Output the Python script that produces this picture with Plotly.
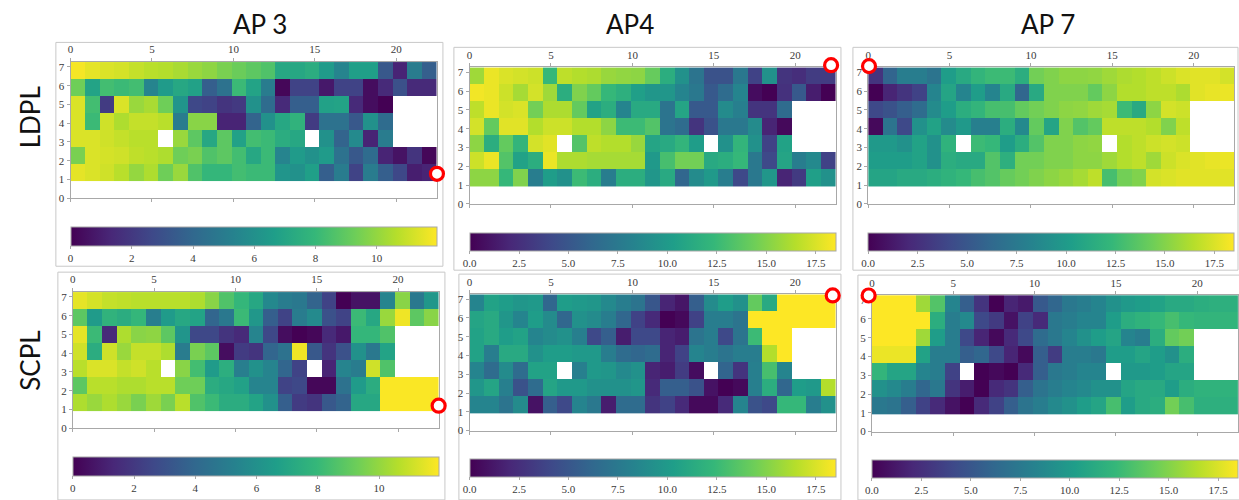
import plotly.graph_objects as go

W, H = 1239, 500

# Measurement grid (25 columns x 7 rows, ~0.9 m cells)
n_cols, n_rows = 25, 7
cell_w, cell_h, row0 = 0.9, 0.907, 0.91
x_cells = [cell_w * (i + 0.5) for i in range(n_cols)]
y_cells = [row0 + cell_h * (j + 0.5) for j in range(n_rows)]

ap_titles = ["AP 3", "AP4", "AP 7"]
model_labels = ["LDPL", "SCPL"]

zmax_ap3 = 11.95
zmax_ap47 = 18.5
cb_ticks_ap3 = [0, 2, 4, 6, 8, 10]
cb_ticks_ap47 = [0.0, 2.5, 5.0, 7.5, 10.0, 12.5, 15.0, 17.5]

N = None
# rows listed bottom (y=1) to top (y=7)
ap3_ldpl = [
    [11.5, 11.3, 11.1, 10.7, 10.0, 10.5, 9.3, 10.1, 8.6, 7.9, 7.9, 8.3, 8.1, 8.1, 6.2, 6.0, 6.7, 3.6, 5.0, 2.4, 5.0, 3.6, 2.6, 1.0, 1.2],
    [9.5, 11.3, 11.2, 11.1, 10.8, 10.7, 10.5, 9.3, 9.5, 8.6, 8.9, 8.3, 7.1, 8.1, 5.4, 6.5, 6.0, 6.5, 4.5, 3.3, 4.2, 1.2, 0.6, 1.8, 0.2],
    [11.3, 11.3, 11.1, 10.9, 10.7, 10.7, N, 10.1, 8.9, 7.1, 8.9, 6.8, 8.3, 8.1, 7.4, 7.1, N, 6.0, 3.8, 5.7, 1.2, 5.0, N, N, N],
    [11.3, 8.1, 11.1, 10.5, 10.9, 10.9, 10.7, 5.0, 9.8, 9.8, 1.2, 1.2, 3.8, 6.0, 7.1, 7.7, 2.1, 4.5, 4.5, 3.3, 6.0, 4.2, N, N, N],
    [11.3, 8.3, 2.1, 11.3, 10.1, 10.4, 9.3, 6.2, 2.6, 2.4, 1.8, 2.0, 6.0, 4.2, 1.4, 3.6, 3.6, 6.8, 6.9, 1.4, 0.4, 0.0, N, N, N],
    [9.3, 6.9, 8.3, 8.1, 8.3, 5.4, 6.5, 7.1, 6.8, 3.6, 4.5, 8.1, 6.9, 5.0, 0.2, 2.4, 2.4, 0.8, 2.4, 2.4, 0.4, 1.4, 3.0, 1.4, 1.4],
    [11.8, 11.5, 11.3, 11.2, 10.9, 10.7, 10.6, 10.4, 10.1, 9.9, 9.5, 9.2, 8.9, 8.6, 7.1, 7.1, 7.4, 6.5, 5.4, 6.7, 6.7, 3.3, 1.2, 5.0, 3.6],
]
ap4_ldpl = [
    [15.3, 15.3, 12.3, 14.9, 7.8, 10.2, 9.3, 12.6, 11.5, 7.8, 11.5, 11.5, 9.7, 11.2, 6.1, 8.9, 9.9, 7.8, 4.1, 7.4, 9.7, 1.9, 3.2, 10.4, 9.3],
    [17.1, 18.0, 13.4, 10.6, 11.5, 18.0, 16.2, 16.2, 16.0, 16.0, 16.0, 16.0, 9.9, 13.0, 14.5, 14.5, 11.2, 11.5, 12.3, 7.4, 4.1, 10.8, 7.8, 8.7, 3.7],
    [15.3, 11.5, 14.0, 12.1, 17.3, 17.7, N, 13.4, 16.7, 16.4, 16.4, 15.6, 10.8, 11.2, 12.1, 10.2, N, 9.3, 12.1, 9.3, 3.7, 10.6, N, N, N],
    [17.3, 14.0, 17.7, 17.7, 16.4, 17.1, 17.1, 16.4, 16.4, 15.3, 12.6, 12.6, 13.4, 7.1, 6.5, 2.8, 4.7, 7.4, 7.4, 8.9, 1.9, 0.4, N, N, N],
    [16.7, 18.0, 17.3, 17.5, 14.5, 16.2, 16.2, 14.0, 10.6, 11.5, 8.4, 11.2, 11.2, 7.1, 10.8, 5.2, 5.2, 8.9, 8.0, 2.8, 2.8, 6.5, N, N, N],
    [18.2, 18.0, 17.1, 16.0, 17.3, 15.8, 11.5, 14.9, 14.0, 12.3, 11.7, 10.4, 9.7, 9.7, 8.4, 7.4, 5.2, 6.5, 8.4, 0.6, 0.0, 2.6, 5.2, 1.5, 0.0],
    [15.8, 18.0, 17.5, 17.3, 17.1, 12.3, 16.7, 16.4, 16.2, 15.6, 15.4, 15.3, 14.1, 11.5, 9.3, 7.1, 4.7, 4.7, 7.4, 3.7, 9.3, 2.8, 2.4, 3.3, 3.3],
]
ap7_ldpl = [
    [10.8, 10.8, 11.2, 11.2, 11.5, 11.9, 12.3, 13.0, 13.4, 14.1, 14.5, 14.9, 15.3, 15.6, 16.0, 16.7, 13.0, 14.5, 14.9, 17.3, 17.5, 17.7, 17.7, 17.7, 17.7],
    [10.2, 10.2, 10.2, 10.6, 9.3, 11.5, 11.2, 11.2, 13.4, 11.7, 14.5, 14.5, 14.9, 14.9, 15.3, 15.3, 15.8, 16.4, 16.7, 15.8, 17.1, 17.5, 17.7, 17.9, 18.0],
    [9.9, 9.9, 9.3, 10.6, 9.3, 11.9, N, 12.6, 12.3, 10.2, 11.5, 13.4, 14.9, 14.9, 15.3, 15.4, N, 16.4, 16.7, 17.1, 17.3, 17.1, N, N, N],
    [0.4, 7.1, 4.1, 9.3, 10.6, 8.9, 9.9, 8.0, 8.0, 11.5, 8.7, 14.0, 10.8, 14.9, 13.4, 14.0, 16.7, 16.7, 16.7, 16.4, 14.9, 16.7, N, N, N],
    [4.1, 4.7, 5.6, 6.5, 8.9, 10.2, 11.5, 12.1, 13.0, 13.0, 14.0, 14.5, 14.9, 15.3, 15.4, 15.8, 16.0, 12.6, 11.2, 15.3, 17.3, 17.1, N, N, N],
    [0.0, 1.9, 2.8, 3.7, 8.4, 10.8, 8.4, 10.2, 8.4, 11.2, 6.1, 11.2, 14.9, 14.9, 14.9, 14.0, 15.3, 16.4, 16.4, 16.7, 16.7, 16.2, 17.7, 17.9, 18.0],
    [2.8, 6.0, 7.8, 7.8, 7.1, 10.2, 11.2, 12.1, 12.6, 12.6, 11.5, 14.5, 14.9, 15.3, 15.3, 15.4, 15.8, 16.2, 16.4, 16.7, 17.1, 17.5, 17.7, 17.7, 17.3],
]
ap3_scpl = [
    [10.5, 10.1, 10.5, 10.1, 9.5, 10.2, 9.5, 10.7, 8.6, 8.1, 7.4, 7.4, 6.9, 6.0, 3.6, 2.1, 1.8, 3.3, 3.8, 7.1, 7.1, 11.9, 11.9, 11.9, 11.9],
    [8.9, 10.7, 10.7, 10.5, 10.5, 10.7, 10.7, 9.3, 9.3, 7.4, 7.1, 6.8, 5.4, 5.4, 2.4, 2.6, 0.2, 0.2, 4.5, 6.5, 7.4, 11.9, 11.9, 11.9, 11.9],
    [10.7, 11.3, 11.3, 10.9, 11.1, 10.7, N, 9.8, 8.3, 6.5, 7.5, 5.1, 6.0, 5.4, 3.9, 2.4, N, 1.2, 5.4, 5.0, 11.1, 8.6, N, N, N],
    [11.1, 7.4, 11.1, 10.1, 10.9, 10.9, 10.5, 5.0, 9.5, 8.9, 0.4, 2.1, 1.8, 3.9, 4.5, 11.7, 3.3, 1.8, 3.0, 6.0, 4.8, 6.9, N, N, N],
    [11.5, 8.1, 1.4, 10.5, 9.8, 9.9, 8.9, 6.2, 2.6, 2.6, 1.8, 1.4, 5.4, 2.6, 0.4, 0.0, 0.2, 1.4, 0.8, 7.9, 7.9, 8.6, N, N, N],
    [8.9, 6.5, 7.7, 7.4, 7.9, 5.1, 6.5, 7.1, 6.9, 3.9, 4.8, 8.1, 6.3, 3.6, 2.4, 5.0, 5.7, 3.0, 2.4, 8.1, 7.1, 10.1, 11.7, 8.9, 9.8],
    [11.5, 11.2, 10.9, 10.8, 10.7, 10.7, 10.7, 10.7, 10.5, 9.8, 8.6, 7.9, 7.1, 5.6, 5.0, 4.8, 3.8, 2.4, 0.0, 0.6, 0.6, 5.4, 9.8, 4.8, 6.3],
]
ap4_scpl = [
    [8.4, 8.4, 7.1, 8.9, 0.9, 5.6, 4.1, 8.4, 7.4, 1.5, 6.5, 6.5, 2.8, 3.7, 2.2, 0.4, 0.4, 2.2, 8.4, 4.7, 4.1, 12.3, 12.3, 7.8, 9.3],
    [9.7, 10.8, 8.0, 4.7, 6.5, 10.8, 9.9, 9.9, 9.3, 9.3, 9.3, 9.7, 2.2, 5.6, 5.6, 4.7, 0.9, 0.0, 0.4, 8.0, 11.5, 6.1, 10.2, 9.9, 16.4],
    [8.4, 6.5, 8.9, 6.5, 10.6, 10.6, N, 8.0, 9.9, 9.7, 8.7, 9.3, 1.9, 1.5, 3.3, 0.6, N, 6.0, 2.8, 8.0, 13.0, 8.4, N, N, N],
    [10.6, 7.8, 11.2, 11.2, 9.3, 10.2, 10.2, 9.9, 9.9, 7.8, 6.5, 6.1, 6.5, 1.9, 3.7, 8.4, 7.8, 7.1, 7.8, 7.8, 16.4, 18.6, N, N, N],
    [10.6, 11.2, 10.2, 10.6, 8.4, 8.9, 9.3, 8.0, 4.1, 5.6, 1.5, 4.1, 4.1, 1.9, 1.5, 7.1, 7.8, 4.1, 7.1, 12.6, 18.6, 18.6, N, N, N],
    [10.8, 11.2, 9.7, 8.4, 10.2, 8.9, 6.1, 9.3, 8.9, 7.8, 6.1, 3.7, 2.2, 0.0, 0.4, 3.7, 7.8, 7.8, 7.1, 18.6, 18.6, 18.6, 18.6, 18.6, 18.6],
    [8.4, 10.6, 10.2, 9.7, 9.9, 6.1, 10.2, 9.9, 9.7, 8.7, 7.8, 7.1, 5.0, 1.9, 1.1, 5.6, 8.9, 10.2, 9.3, 14.0, 11.2, 18.6, 18.6, 18.6, 18.6],
]
ap7_scpl = [
    [7.4, 7.1, 5.6, 3.7, 2.2, 0.9, 0.0, 2.2, 3.7, 5.6, 7.1, 7.8, 8.7, 9.3, 10.2, 10.8, 13.0, 10.2, 11.2, 11.5, 14.5, 13.0, 11.7, 11.7, 11.7],
    [9.3, 8.7, 7.8, 6.1, 7.4, 2.8, 1.5, 0.0, 2.2, 2.8, 5.6, 7.1, 7.8, 8.4, 8.7, 9.3, 9.3, 10.8, 11.2, 11.2, 10.2, 11.5, 11.9, 11.9, 11.9],
    [12.1, 10.8, 10.8, 8.4, 7.8, 3.7, N, 0.0, 0.4, 0.0, 2.2, 5.6, 7.4, 7.8, 8.4, 8.4, N, 9.9, 9.9, 10.2, 10.8, 10.8, N, N, N],
    [18.0, 18.0, 18.0, 10.6, 7.8, 7.8, 5.6, 6.1, 4.1, 1.9, 0.4, 5.6, 3.3, 7.8, 7.8, 7.4, 10.2, 10.2, 10.8, 10.2, 9.3, 11.5, N, N, N],
    [18.6, 18.6, 18.6, 15.8, 10.2, 7.8, 4.1, 1.9, 0.4, 2.2, 4.1, 6.5, 7.4, 8.4, 9.3, 10.2, 10.8, 8.4, 7.8, 11.5, 14.0, 14.5, N, N, N],
    [18.6, 18.6, 18.6, 18.6, 11.5, 7.8, 8.7, 4.1, 3.2, 0.9, 3.7, 2.2, 7.4, 7.8, 8.4, 8.4, 10.2, 11.5, 11.9, 12.3, 13.0, 12.3, 12.1, 12.1, 12.1],
    [18.6, 18.6, 18.6, 15.8, 13.4, 8.4, 5.6, 2.8, 0.0, 1.9, 1.3, 5.2, 6.1, 7.4, 7.8, 8.4, 9.3, 9.9, 10.2, 10.6, 11.2, 11.2, 11.5, 11.7, 11.7],
]

# access-point location drawn on each panel (x, y in metres)
ap_x = [22.5, 22.2, 0.05, 22.5, 22.3, -0.2]
ap_y = [1.3, 7.38, 7.33, 1.2, 7.2, 7.25]

panels = [
    dict(z=ap3_ldpl, zmax=zmax_ap3, ticks=cb_ticks_ap3),
    dict(z=ap4_ldpl, zmax=zmax_ap47, ticks=cb_ticks_ap47),
    dict(z=ap7_ldpl, zmax=zmax_ap47, ticks=cb_ticks_ap47),
    dict(z=ap3_scpl, zmax=zmax_ap3, ticks=cb_ticks_ap3),
    dict(z=ap4_scpl, zmax=zmax_ap47, ticks=cb_ticks_ap47),
    dict(z=ap7_scpl, zmax=zmax_ap47, ticks=cb_ticks_ap47),
]

# pixel layout: heatmap area (left, right, top, bottom), colorbar (left, right, top, bottom), frame box
geom = [
    dict(ax=(67.7, 435.0, 61.7, 200.0), cb=(67.7, 435.0, 229.0, 248.0), box=(53, 441, 42, 269)),
    dict(ax=(467.7, 835.0, 67.2, 205.7), cb=(467.7, 835.0, 235.0, 253.3), box=(452, 840, 47, 273)),
    dict(ax=(867.3, 1234.3, 67.2, 205.7), cb=(867.3, 1234.3, 235.0, 253.3), box=(852, 1238, 47, 273)),
    dict(ax=(70.0, 436.7, 295.0, 433.3), cb=(70.0, 436.7, 462.7, 481.7), box=(55, 443, 275, 506)),
    dict(ax=(467.7, 835.0, 297.3, 435.7), cb=(467.7, 835.0, 465.0, 483.3), box=(457, 840, 277, 506)),
    dict(ax=(871.0, 1238.0, 298.3, 436.7), cb=(871.0, 1238.0, 466.0, 484.0), box=(857, 1239.5, 278, 506)),
]

TICK_FONT = dict(family="Liberation Serif", size=11, color="#3a3a3a")
SPINE = "#a8a8a8"
X_MAX, Y_MAX = 22.5, 7.27
PAD = 18  # px of room around each map for the AP marker overlay

fig = go.Figure()
layout = dict(
    width=W, height=H, margin=dict(l=0, r=0, t=0, b=0),
    paper_bgcolor="white", plot_bgcolor="rgba(0,0,0,0)", showlegend=False,
)
shapes, annotations = [], []

for k, (p, g) in enumerate(zip(panels, geom), start=1):
    xl, xr, yt, yb = g["ax"]
    sx = "" if k == 1 else str(k)
    fig.add_trace(go.Heatmap(
        x=x_cells, y=y_cells, z=p["z"],
        colorscale="Viridis", zmin=0, zmax=p["zmax"],
        xaxis="x" + sx, yaxis="y" + sx, hoverongaps=False,
        colorbar=dict(
            orientation="h",
            x=g["cb"][0] / W, xanchor="left",
            len=(g["cb"][1] - g["cb"][0]) / W, lenmode="fraction",
            y=1 - g["cb"][2] / H, yanchor="top",
            thickness=g["cb"][3] - g["cb"][2], thicknessmode="pixels",
            xpad=0, ypad=0,
            outlinecolor=SPINE, outlinewidth=1,
            tickmode="array", tickvals=p["ticks"],
            ticktext=[(f"{t:.1f}" if p["zmax"] > 15 else f"{t:g}") for t in p["ticks"]],
            ticks="outside", ticklen=3, tickcolor=SPINE,
            tickfont=TICK_FONT,
        ),
    ))
    layout["xaxis" + sx] = dict(
        domain=[xl / W, xr / W], anchor="y" + sx, range=[0, X_MAX],
        side="top", tickmode="array", tickvals=[0, 5, 10, 15, 20],
        ticks="outside", ticklen=3, tickcolor=SPINE,
        showline=True, linecolor=SPINE, linewidth=1, mirror="ticks",
        showgrid=False, zeroline=False, tickfont=TICK_FONT,
    )
    layout["yaxis" + sx] = dict(
        domain=[1 - yb / H, 1 - yt / H], anchor="x" + sx, range=[0, Y_MAX],
        tickmode="array", tickvals=list(range(8)),
        ticks="outside", ticklen=3, tickcolor=SPINE,
        showline=True, linecolor=SPINE, linewidth=1, mirror=True,
        showgrid=False, zeroline=False, tickfont=TICK_FONT,
    )

    # hidden axes with the same metres-per-pixel scale but a little extra room,
    # so the AP marker can sit on or just outside the map edge
    kx = (xr - xl) / X_MAX
    ky = (yb - yt) / Y_MAX
    pl, pr = min(PAD, xl), min(PAD, W - xr)
    pt, pb = min(PAD, yt), min(PAD, H - yb)
    mk = str(k + 6)
    layout["xaxis" + mk] = dict(
        domain=[(xl - pl) / W, (xr + pr) / W], anchor="y" + mk,
        range=[-pl / kx, X_MAX + pr / kx], visible=False,
    )
    layout["yaxis" + mk] = dict(
        domain=[1 - (yb + pb) / H, 1 - (yt - pt) / H], anchor="x" + mk,
        range=[-pb / ky, Y_MAX + pt / ky], visible=False,
    )
    fig.add_trace(go.Scatter(
        x=[ap_x[k - 1]], y=[ap_y[k - 1]], mode="markers",
        marker=dict(symbol="circle", size=13, color="white",
                    line=dict(color="#ff0000", width=3.2)),
        xaxis="x" + mk, yaxis="y" + mk, hoverinfo="skip",
    ))

    bx0, bx1, by0, by1 = g["box"]
    shapes.append(dict(
        type="rect", xref="paper", yref="paper",
        x0=bx0 / W, x1=bx1 / W, y0=1 - by1 / H, y1=1 - by0 / H,
        line=dict(color="#c8c8c8", width=1), layer="below",
    ))

HEAD_FONT = dict(family="Lato, Noto Sans, sans-serif", size=26, color="#111111")
for title, cx in zip(ap_titles, [258, 629, 1048]):
    annotations.append(dict(
        text=title, x=cx / W, y=1 - 23 / H, xref="paper", yref="paper",
        showarrow=False, xanchor="center", yanchor="middle", font=HEAD_FONT,
    ))
for label, cy in zip(model_labels, [118, 365]):
    annotations.append(dict(
        text=label, x=27 / W, y=1 - cy / H, xref="paper", yref="paper",
        showarrow=False, xanchor="center", yanchor="middle",
        textangle=-90, font=HEAD_FONT,
    ))

layout["shapes"] = shapes
layout["annotations"] = annotations
fig.update_layout(**layout)
fig.write_html("out.html")
